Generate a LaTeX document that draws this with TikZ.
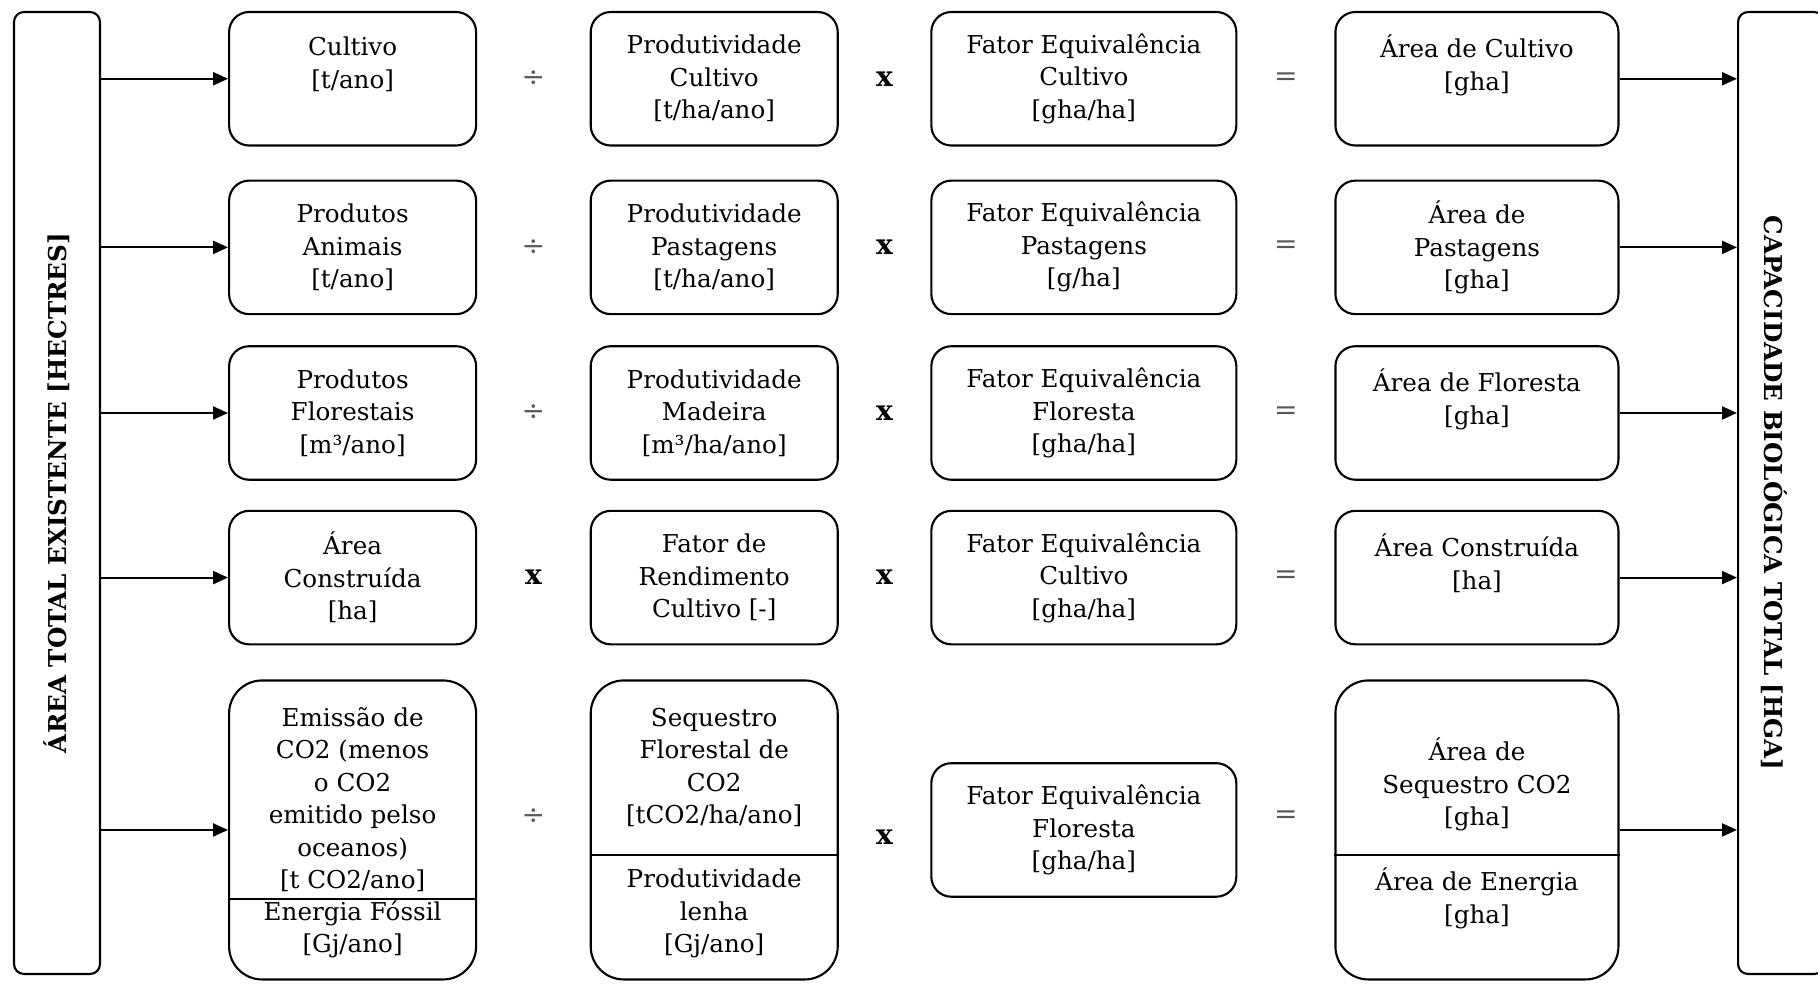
\documentclass[tikz,border=0pt]{standalone}
\usepackage{fontspec}
\setmainfont{DejaVu Serif}
\usetikzlibrary{positioning, calc, arrows.meta}

\tikzset{
    box/.style={draw, rounded corners=2mm, line width=0.6pt, minimum height=13.35mm,
                align=center, inner sep=0pt, font=\fontsize{7pt}{9.25pt}\selectfont},
    bigbox/.style={box, rounded corners=3.3mm, minimum height=29.9mm},
    inbox/.style={minimum width=24.7mm},
    facbox/.style={minimum width=30.5mm},
    resbox/.style={minimum width=28.3mm},
    txt/.style={align=center, inner sep=0pt, font=\fontsize{7pt}{9.25pt}\selectfont},
    bar/.style={draw, rounded corners=1mm, line width=0.6pt, minimum width=8.6mm,
                minimum height=96.2mm, inner sep=0pt},
    bartxt/.style={font=\bfseries\fontsize{7pt}{9pt}\selectfont, inner sep=0pt},
    op/.style={font=\fontsize{8pt}{10pt}\selectfont, text=black!65},
    mul/.style={font=\bfseries\fontsize{8pt}{10pt}\selectfont},
    flow/.style={-{Triangle[length=1.5mm, width=1.3mm]}, line width=0.6pt},
}

\begin{document}
\begin{tikzpicture}
    \useasboundingbox (0,0) rectangle (181.8mm,-98.3mm);

    \node[bar] (area) at (5.7mm,-49.3mm) {};
    \node[bartxt, rotate=90] (areatxt) at (area) {ÁREA TOTAL EXISTENTE [HECTRES]};

    % cultivo
    \node[box, inbox, anchor=north west] (cult) at ([xshift=12.7mm]area.north east)
         {Cultivo\\{}[t/ano]\\~};
    \node[box, inbox, right=11.25mm of cult] (pcult) {Produtividade\\Cultivo\\{}[t/ha/ano]};
    \node[box, facbox, right=9.15mm of pcult] (fcult) {Fator Equivalência\\Cultivo\\{}[gha/ha]};
    \node[box, resbox, right=9.7mm of fcult] (acult) {Área de Cultivo\\{}[gha]\\~};

    % pastagens
    \node[box, inbox, below=3.3mm of cult] (anim) {Produtos\\Animais\\{}[t/ano]};
    \node[box, inbox, right=11.25mm of anim] (ppast) {Produtividade\\Pastagens\\{}[t/ha/ano]};
    \node[box, facbox, right=9.15mm of ppast] (fpast) {Fator Equivalência\\Pastagens\\{}[g/ha]};
    \node[box, resbox, right=9.7mm of fpast] (apast) {Área de\\Pastagens\\{}[gha]};

    % floresta
    \node[box, inbox, below=3.0mm of anim] (flor) {Produtos\\Florestais\\{}[m³/ano]};
    \node[box, inbox, right=11.25mm of flor] (pmad) {Produtividade\\Madeira\\{}[m³/ha/ano]};
    \node[box, facbox, right=9.15mm of pmad] (fflor) {Fator Equivalência\\Floresta\\{}[gha/ha]};
    \node[box, resbox, right=9.7mm of fflor] (aflor) {Área de Floresta\\{}[gha]\\~};

    % area construida
    \node[box, inbox, below=2.9mm of flor] (constr) {Área\\Construída\\{}[ha]};
    \node[box, inbox, right=11.25mm of constr] (frend) {Fator de\\Rendimento\\Cultivo [-]};
    \node[box, facbox, right=9.15mm of frend] (fconstr) {Fator Equivalência\\Cultivo\\{}[gha/ha]};
    \node[box, resbox, right=9.7mm of fconstr] (aconstr) {Área Construída\\{}[ha]\\~};

    % CO2 / energia
    \node[bigbox, inbox, below=3.4mm of constr] (emi) {};
    \node[bigbox, inbox, right=11.25mm of emi] (seq) {};
    \node[box, facbox, right=9.15mm of seq] (fseq) {Fator Equivalência\\Floresta\\{}[gha/ha]};
    \node[bigbox, resbox, right=9.7mm of fseq] (aseq) {};

    \node[txt] (emiA) at ([yshift=-12.0mm]emi.north)
         {Emissão de\\CO2 (menos\\o CO2\\emitido pelso\\oceanos)\\{}[t CO2/ano]};
    \node[txt] (emiB) at ([yshift=-25.0mm]emi.north) {Energia Fóssil\\{}[Gj/ano]};
    \draw[line width=0.6pt] ([yshift=-22.0mm]emi.north west) -- ([yshift=-22.0mm]emi.north east);

    \node[txt] (seqA) at ([yshift=-8.8mm]seq.north)
         {Sequestro\\Florestal de\\CO2\\{}[tCO2/ha/ano]};
    \node[txt] (seqB) at ([yshift=-23.4mm]seq.north) {Produtividade\\lenha\\{}[Gj/ano]};
    \draw[line width=0.6pt] ([yshift=-17.6mm]seq.north west) -- ([yshift=-17.6mm]seq.north east);

    \node[txt] (aseqA) at ([yshift=-10.5mm]aseq.north) {Área de\\Sequestro CO2\\{}[gha]};
    \node[txt] (aseqB) at ([yshift=-21.9mm]aseq.north) {Área de Energia\\{}[gha]};
    \draw[line width=0.6pt] ([yshift=-17.6mm]aseq.north west) -- ([yshift=-17.6mm]aseq.north east);

    % operadores
    \node[op] (div1) at ($(cult.east)!0.5!(pcult.west)$) {÷};
    \node[mul] (mul1) at ($(pcult.east)!0.5!(fcult.west)$) {x};
    \node[op] (eq1) at ($(fcult.east)!0.5!(acult.west)$) {=};
    \node[op] (div2) at ($(anim.east)!0.5!(ppast.west)$) {÷};
    \node[mul] (mul2) at ($(ppast.east)!0.5!(fpast.west)$) {x};
    \node[op] (eq2) at ($(fpast.east)!0.5!(apast.west)$) {=};
    \node[op] (div3) at ($(flor.east)!0.5!(pmad.west)$) {÷};
    \node[mul] (mul3) at ($(pmad.east)!0.5!(fflor.west)$) {x};
    \node[op] (eq3) at ($(fflor.east)!0.5!(aflor.west)$) {=};
    \node[mul] (mul4a) at ($(constr.east)!0.5!(frend.west)$) {x};
    \node[mul] (mul4) at ($(frend.east)!0.5!(fconstr.west)$) {x};
    \node[op] (eq4) at ($(fconstr.east)!0.5!(aconstr.west)$) {=};
    \node[op] (div5) at ([yshift=1.3mm]$(emi.east)!0.5!(seq.west)$) {÷};
    \node[mul] (mul5) at ([yshift=-0.7mm]$(seq.east)!0.5!(fseq.west)$) {x};
    \node[op] (eq5) at ([yshift=1.3mm]$(fseq.east)!0.5!(aseq.west)$) {=};

    \node[bar, anchor=north west] (cap) at ([xshift=11.75mm]acult.north east) {};
    \node[bartxt, rotate=-90] (captxt) at ([xshift=-0.7mm]cap.center) {CAPACIDADE BIOLÓGICA TOTAL [HGA]};

    \draw[flow] (area.east |- cult) -- (cult);
    \draw[flow] (area.east |- anim) -- (anim);
    \draw[flow] (area.east |- flor) -- (flor);
    \draw[flow] (area.east |- constr) -- (constr);
    \draw[flow] (area.east |- emi) -- (emi);

    \draw[flow] (acult) -- (acult -| cap.west);
    \draw[flow] (apast) -- (apast -| cap.west);
    \draw[flow] (aflor) -- (aflor -| cap.west);
    \draw[flow] (aconstr) -- (aconstr -| cap.west);
    \draw[flow] (aseq) -- (aseq -| cap.west);
\end{tikzpicture}
\end{document}
